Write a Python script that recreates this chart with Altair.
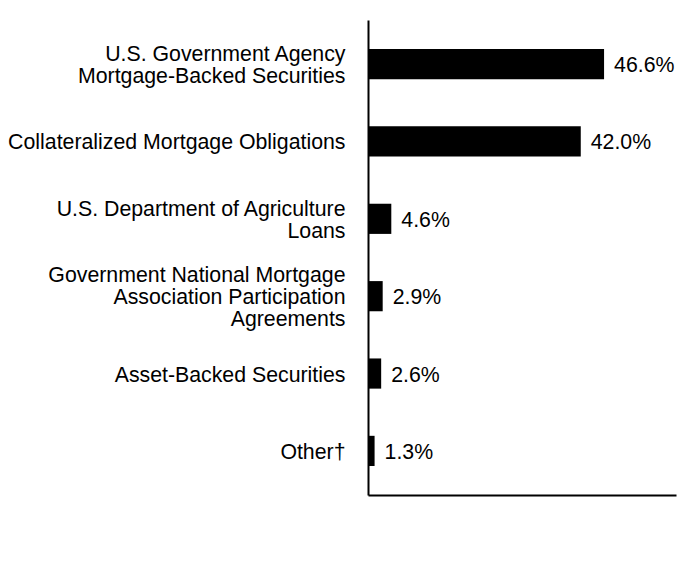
import altair as alt
import pandas as pd

categories = [
    "U.S. Government Agency|Mortgage-Backed Securities",
    "Collateralized Mortgage Obligations",
    "U.S. Department of Agriculture|Loans",
    "Government National Mortgage|Association Participation|Agreements",
    "Asset-Backed Securities",
    "Other\u2020",
]
values = [46.6, 42.0, 4.6, 2.9, 2.6, 1.3]
value_labels = ["46.6%", "42.0%", "4.6%", "2.9%", "2.6%", "1.3%"]

df = pd.DataFrame({"category": categories, "value": values, "label": value_labels})

FONT = "Liberation Sans"
FS = 21.3
LH = 22
SHIFT = 2

y_enc = alt.Y(
    "category:N",
    sort=categories,
    title=None,
    scale=alt.Scale(paddingInner=0.61, paddingOuter=0.375),
    axis=alt.Axis(
        labelExpr="split(datum.label, '|')",
        labelFont=FONT,
        labelFontSize=FS,
        labelColor="black",
        labelLineHeight=LH,
        labelPadding=23,
        labelLimit=400,
        labelOffset={
            "condition": [
                {"test": "length(split(datum.label, '|')) == 3", "value": -LH + SHIFT},
                {"test": "length(split(datum.label, '|')) == 2", "value": -LH / 2 + SHIFT},
            ],
            "value": SHIFT,
        },
        ticks=False,
        grid=False,
        domainColor="black",
        domainWidth=2,
    ),
)
x_enc = alt.X(
    "value:Q",
    title=None,
    scale=alt.Scale(domain=[0, 60.8], nice=False),
    axis=alt.Axis(labels=False, ticks=False, grid=False, domainColor="black", domainWidth=2),
)

bars = alt.Chart(df).mark_bar(color="black").encode(x=x_enc, y=y_enc)
text = alt.Chart(df).mark_text(
    align="left", baseline="middle", dx=10, dy=SHIFT, font=FONT, fontSize=FS, color="black"
).encode(x="value:Q", y=alt.Y("category:N", sort=categories), text="label:N")

chart = (
    alt.layer(bars, text)
    .properties(
        width=308,
        height=475,
        autosize=alt.AutoSizeParams(type="none"),
        padding={"left": 360, "top": 12, "right": 12, "bottom": 73},
    )
    .configure_view(stroke=None)
)

chart.save("out.html", embed_options={"renderer": "svg", "actions": False})
